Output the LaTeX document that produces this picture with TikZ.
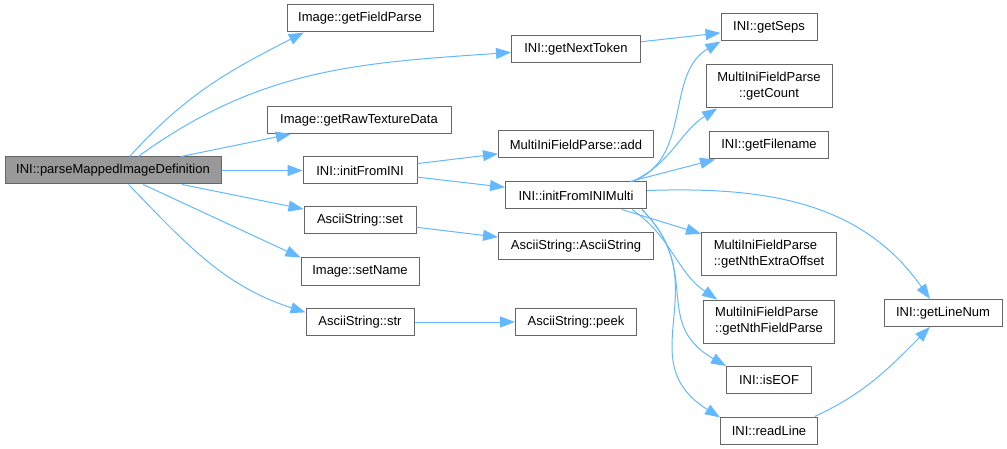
\documentclass[tikz,border=0pt]{standalone}
\usepackage{fontspec}
\setmainfont{Liberation Sans}
\usepackage{tikz}
\usetikzlibrary{arrows.meta}
\definecolor{edgeblue}{HTML}{63B8FF}
\definecolor{boxgray}{HTML}{666666}
\definecolor{mainfill}{HTML}{999999}

\begin{document}
\begin{tikzpicture}[x=1pt, y=-1pt,
    fn/.style={draw=boxgray, fill=white, line width=1pt, inner sep=0pt,
        minimum height=27, font=\fontsize{13}{16}\selectfont},
    fn2/.style={fn, minimum height=43},
    call/.style={draw=edgeblue, line width=1pt, -{Triangle[length=15pt, width=11pt]}}]
    \useasboundingbox (0,0) rectangle (1007,449);

    % Define the functions
    % Caller
    \node[fn, fill=mainfill, minimum width=216] (main) at (113,170.5) {INI::parseMappedImageDefinition};

    % Second column
    \node[fn, minimum width=146] (fieldparse) at (360,18.5) {Image::getFieldParse};
    \node[fn, minimum width=184] (rawdata) at (359,120) {Image::getRawTextureData};
    \node[fn, minimum width=114] (initini) at (360,170.5) {INI::initFromINI};
    \node[fn, minimum width=112] (strset) at (360,220.5) {AsciiString::set};
    \node[fn, minimum width=118] (setname) at (360,271.5) {Image::setName};
    \node[fn, minimum width=108] (strstr) at (360,322) {AsciiString::str};

    % Third column
    \node[fn, minimum width=129] (nexttoken) at (576,49) {INI::getNextToken};
    \node[fn, minimum width=155] (fieldadd) at (576,144.5) {MultiIniFieldParse::add};
    \node[fn, minimum width=141] (initmulti) at (576,195.5) {INI::initFromINIMulti};
    \node[fn, minimum width=155] (asciictor) at (576,246.5) {AsciiString::AsciiString};
    \node[fn, minimum width=121] (peek) at (576,322) {AsciiString::peek};

    % Fourth column
    \node[fn, minimum width=96] (seps) at (769,27.5) {INI::getSeps};
    \node[fn2, minimum width=126, align=center] (count) at (769,86.5) {MultiIniFieldParse\\::getCount};
    \node[fn, minimum width=119] (filename) at (769,145.5) {INI::getFilename};
    \node[fn2, minimum width=135, align=left] (extraoff) at (769,254.5) {MultiIniFieldParse\\::getNthExtraOffset};
    \node[fn2, minimum width=131, align=left] (nthfield) at (769,321.5) {MultiIniFieldParse\\::getNthFieldParse};
    \node[fn, minimum width=85] (iseof) at (769,380) {INI::isEOF};
    \node[fn, minimum width=97] (readline) at (769,430.5) {INI::readLine};

    % Last column
    \node[fn, minimum width=118] (linenum) at (943,313) {INI::getLineNum};

    % Draw the calls
    % From the caller
    \draw[call] (main.40) to[out=48, in=207] (fieldparse.194);
    \draw[call] (main.29) to[out=36, in=184] (nexttoken.183);
    \draw[call] (main) -- (rawdata);
    \draw[call] (main) -- (initini);
    \draw[call] (main) -- (strset);
    \draw[call] (main) -- (setname.north west);
    \draw[call] (main.-42) to[out=-46, in=162] (strstr.170);

    % Second column to third
    \draw[call] (initini) -- (fieldadd);
    \draw[call] (initini) -- (initmulti);
    \draw[call] (strset) -- (asciictor);
    \draw[call] (strstr) -- (peek);
    \draw[call] (nexttoken) -- (seps);

    % The fan out of initFromINIMulti
    \draw[call] (initmulti.14) to[out=20, in=210] (seps.south west);
    \draw[call] (initmulti.14) to[out=25, in=212] (count.203);
    \draw[call] (initmulti) -- (filename);
    \draw[call] (initmulti.4) to[out=2, in=125] (linenum.133);
    \draw[call] (initmulti) -- (extraoff);
    \draw[call] (initmulti.-14) to[out=-35, in=146] (nthfield.157);
    \draw[call] (initmulti.-12) to[out=-45, in=150, looseness=1.25] (iseof.north west);
    \draw[call] (initmulti.-12) to[out=-45, in=148, looseness=1.25] (readline.165);

    % readLine back up to getLineNum
    \draw[call] (readline.17) to[out=25, in=225] (linenum.227);

\end{tikzpicture}
\end{document}
